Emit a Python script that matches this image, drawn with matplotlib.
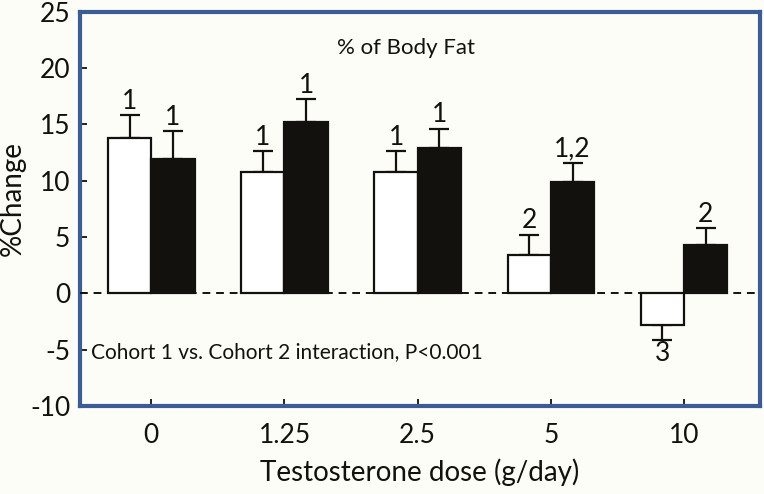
import matplotlib
matplotlib.use("Agg")
import matplotlib.pyplot as plt
import numpy as np

# ---- data ----
doses = ["0", "1.25", "2.5", "5", "10"]
cohort1 = [13.8, 10.8, 10.8, 3.4, -2.8]
cohort1_err = [2.0, 1.8, 1.8, 1.8, 1.3]
cohort2 = [11.9, 15.2, 12.9, 9.9, 4.3]
cohort2_err = [2.5, 2.0, 1.7, 1.7, 1.5]
labels1 = ["1", "1", "1", "2", "3"]
labels2 = ["1", "1", "1", "1,2", "2"]
yticks = [-10, -5, 0, 5, 10, 15, 20, 25]

plt.rcParams['font.family'] = ['Lato', 'DejaVu Sans']
bg = '#FDFDF8'
blue = '#3B5C94'
black = '#12110D'

fig = plt.figure(figsize=(7.64, 4.94), dpi=100, facecolor=bg)
ax = fig.add_axes([0.1047, 0.178, 0.8901, 0.7987])
ax.set_facecolor(bg)

x = np.arange(len(doses))
w = 0.325
x1 = x - w / 2
x2 = x + w / 2

ax.bar(x1, cohort1, width=w, color='white', edgecolor=black, linewidth=1.6, zorder=3)
ax.bar(x2, cohort2, width=w, color=black, edgecolor=black, linewidth=1.6, zorder=3)

for xi, v, e in zip(x1, cohort1, cohort1_err):
    sgn = 1 if v >= 0 else -1
    ax.errorbar([xi], [v], yerr=[[e], [0]] if sgn < 0 else [[0], [e]], fmt='none',
                ecolor=black, elinewidth=1.6, capsize=7, capthick=1.6, zorder=2)
for xi, v, e in zip(x2, cohort2, cohort2_err):
    ax.errorbar([xi], [v], yerr=[[0], [e]], fmt='none',
                ecolor=black, elinewidth=1.6, capsize=7, capthick=1.6, zorder=2)

for xi, v, e, t in zip(x1, cohort1, cohort1_err, labels1):
    if v >= 0:
        ax.annotate(t, (xi, v + e), xytext=(0, 1), textcoords='offset points',
                    ha='center', va='bottom', fontsize=19, color=black)
    else:
        ax.annotate(t, (xi, v - e), xytext=(0, -1), textcoords='offset points',
                    ha='center', va='top', fontsize=19, color=black)
for xi, v, e, t in zip(x2, cohort2, cohort2_err, labels2):
    ax.annotate(t, (xi, v + e), xytext=(0, 1), textcoords='offset points',
                ha='center', va='bottom', fontsize=19, color=black)

ax.axhline(0, color=black, linestyle=(0, (4, 3)), linewidth=1.4, zorder=4)

ax.set_xlim(-0.535, 4.57)
ax.set_ylim(-10, 25)
ax.set_xticks(x)
ax.set_xticklabels(doses)
ax.set_yticks(yticks)
ax.set_yticklabels([str(t) for t in yticks])
ax.tick_params(axis='both', direction='in', length=5, width=1.3, color=black,
               labelsize=19, labelcolor=black)
ax.tick_params(axis='x', pad=12)
ax.tick_params(axis='y', pad=7)

for s in ax.spines.values():
    s.set_color(blue)
    s.set_linewidth(3)

ax.set_xlabel("Testosterone dose (g/day)", fontsize=20, color=black, labelpad=8)
ax.set_ylabel("%Change", fontsize=20, color=black, va='center')
ax.yaxis.set_label_coords(-0.0985, 0.527)

ax.text(1.91, 21.8, "% of Body Fat", ha='center', va='center', fontsize=16, color=black)
ax.text(-0.45, -5.2, "Cohort 1 vs. Cohort 2 interaction, P<0.001", ha='left', va='center',
        fontsize=15, color=black)

fig.savefig("out.png", dpi=100, facecolor=bg)
